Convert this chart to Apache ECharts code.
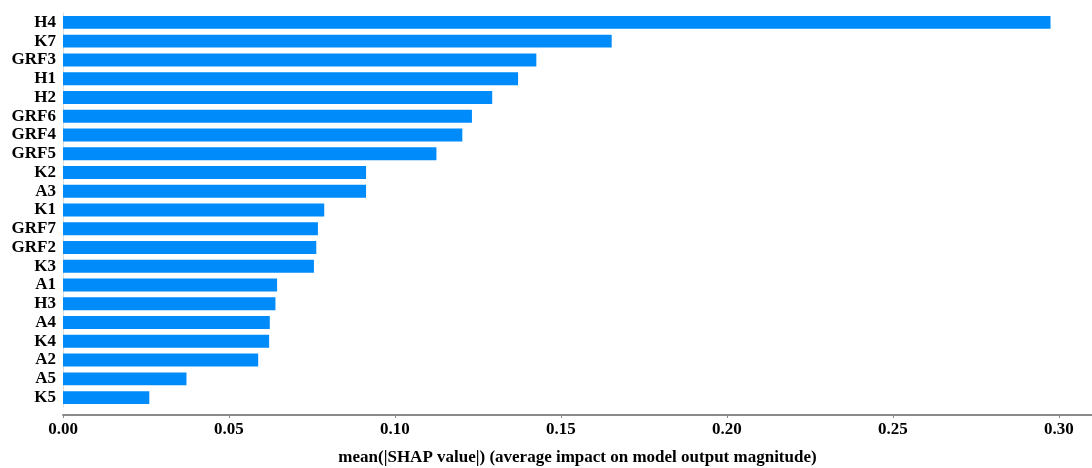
<!DOCTYPE html>
<html>
<head>
<meta charset="utf-8">
<script src="https://cdn.jsdelivr.net/npm/echarts@6/dist/echarts.min.js"></script>
<style>html,body{margin:0;padding:0;background:#fff}#c{width:1092px;height:468px}</style>
</head>
<body>
<div id="c"></div>
<script>
const features = ["H4","K7","GRF3","H1","H2","GRF6","GRF4","GRF5","K2","A3","K1","GRF7","GRF2","K3","A1","H3","A4","K4","A2","A5","K5"];
const meanShap = [0.2975,0.1653,0.1426,0.1371,0.1293,0.1232,0.1203,0.1125,0.0913,0.0913,0.0787,0.0768,0.0763,0.0756,0.0645,0.0640,0.0623,0.0621,0.0588,0.0372,0.0260];
const xTitle = "mean(|SHAP value|) (average impact on model output magnitude)";
const font = "'Liberation Serif','Times New Roman',serif";

const chart = echarts.init(document.getElementById('c'), null, {renderer:'canvas'});
chart.setOption({
  animation:false,
  backgroundColor:'#fff',
  grid:{left:63, right:0, top:13, bottom:61, containLabel:false, outerBoundsMode:'none'},
  xAxis:{
    type:'value', min:0, max:0.31, interval:0.05, offset:8,
    splitLine:{show:false},
    axisLine:{show:true, lineStyle:{color:'#8a8a8a', width:2}},
    axisTick:{show:true, length:3, lineStyle:{color:'#8a8a8a'}},
    axisLabel:{showMaxLabel:false, color:'#000', fontFamily:font, fontWeight:'bold', fontSize:17, margin:6,
      formatter:v=>v.toFixed(2)},
    name:xTitle, nameLocation:'middle', nameGap:34,
    nameTextStyle:{color:'#000', fontFamily:font, fontWeight:'bold', fontSize:17}
  },
  yAxis:{
    type:'category', data:features, inverse:true,
    axisLine:{show:true, lineStyle:{color:'#dcdcdc', width:1}},
    axisTick:{show:false},
    axisLabel:{interval:0, color:'#000', fontFamily:font, fontWeight:'bold', fontSize:17, margin:7}
  },
  series:[{
    type:'bar', data:meanShap, barCategoryGap:'31%',
    itemStyle:{color:'#008bfb'}
  }]
});
</script>
</body>
</html>
